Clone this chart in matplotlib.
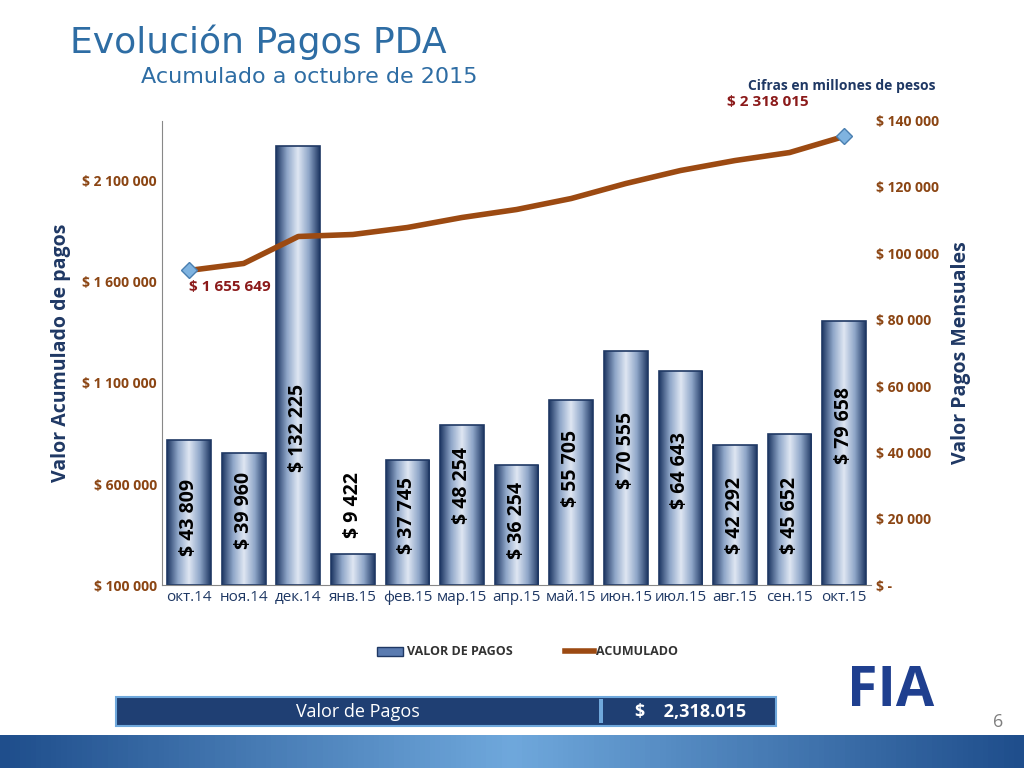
import matplotlib
matplotlib.use("Agg")
import matplotlib.pyplot as plt
import numpy as np
from matplotlib.patches import Rectangle

months = ["окт.14","ноя.14","дек.14","янв.15","фев.15","мар.15","апр.15","май.15","июн.15","июл.15","авг.15","сен.15","окт.15"]
pagos = [43809,39960,132225,9422,37745,48254,36254,55705,70555,64643,42292,45652,79658]
labels = ["$ 43 809","$ 39 960","$ 132 225","$ 9 422","$ 37 745","$ 48 254","$ 36 254","$ 55 705","$ 70 555","$ 64 643","$ 42 292","$ 45 652","$ 79 658"]
acumulado = [1655649,1690123,1823457,1833333,1867901,1917284,1956790,2011111,2085185,2149383,2198765,2238271,2318015]
left_ticks = [100000,600000,1100000,1600000,2100000]
left_tlabels = ["$ 100 000","$ 600 000","$ 1 100 000","$ 1 600 000","$ 2 100 000"]
right_ticks = [0,20000,40000,60000,80000,100000,120000,140000]
right_tlabels = ["$ -","$ 20 000","$ 40 000","$ 60 000","$ 80 000","$ 100 000","$ 120 000","$ 140 000"]
label_pos = [20473,22581,47269,24086,21075,30108,19570,35226,40645,34624,21075,21075,48172]

fig = plt.figure(figsize=(10.24,7.68), dpi=100)
plt.rcParams["font.family"] = "Open Sans"
fig.patch.set_facecolor("white")

ax = fig.add_axes([0.158,0.238,0.693,0.605])
ax2 = ax.twinx()
ax.set_zorder(3); ax.patch.set_visible(False); ax2.set_zorder(2)

x = np.arange(len(months))
cmap = matplotlib.colors.LinearSegmentedColormap.from_list("g",["#1f3864","#8fa6c8","#dfe7f3","#8fa6c8","#1f3864"])
grad = np.linspace(0,1,100).reshape(1,-1)
bars = ax2.bar(x,pagos,width=0.8,color="none",edgecolor="#1f3864",linewidth=1.2,zorder=3)
for b in bars:
    im = ax2.imshow(grad,cmap=cmap,aspect="auto",extent=[b.get_x(),b.get_x()+b.get_width(),0,b.get_height()],zorder=2)
    im.set_clip_path(b)
ax2.set_xlim(-0.5,len(months)-0.5); ax2.set_ylim(0,140000)
for i,(p,l) in enumerate(zip(label_pos,labels)):
    ax2.text(i,p,l,rotation=90,ha="center",va="center",fontsize=14,fontweight="bold",color="black",zorder=5)
ax2.set_yticks(right_ticks); ax2.set_yticklabels(right_tlabels,color="#8b4513",fontsize=10,fontweight="bold")
ax2.set_ylabel("Valor Pagos Mensuales",color="#1f3864",fontsize=14,fontweight="bold",labelpad=8)

ax.plot(x,acumulado,color="#9c4a12",linewidth=4,zorder=4)
ax.plot([0,12],[acumulado[0],acumulado[-1]],linestyle="none",marker="D",markersize=8,markerfacecolor="#7fb3e0",markeredgecolor="#4a7fb0",zorder=5)
ax.set_ylim(100000,100000+465/405*2e6)
ax.set_xlim(-0.5,len(months)-0.5)
ax.set_yticks(left_ticks); ax.set_yticklabels(left_tlabels,color="#8b4513",fontsize=10,fontweight="bold")
ax.set_xticks(x); ax.set_xticklabels(months,fontsize=11,color="#1f3864")
ax.set_ylabel("Valor Acumulado de pagos",color="#1f3864",fontsize=14,fontweight="bold",labelpad=8)
ax.text(0.0,acumulado[0]-80000,"$ 1 655 649",color="#8b1a1a",fontsize=11,fontweight="bold",va="center")
ax.text(10.6,acumulado[-1]+150000,"$ 2 318 015",color="#8b1a1a",fontsize=11,fontweight="bold",ha="center")
for a in (ax,ax2):
    for s in ["top","right"]: a.spines[s].set_visible(False)
    a.tick_params(length=0)
ax.spines["left"].set_color("#888888"); ax.spines["bottom"].set_color("#888888")
ax2.spines["left"].set_visible(False); ax2.spines["bottom"].set_visible(False)

fig.text(0.068,0.945,"Evolución Pagos PDA",fontsize=26,color="#2e6da4",va="center",family="DejaVu Sans")
fig.text(0.138,0.9,"Acumulado a octubre de 2015",fontsize=16,color="#2e6da4",va="center",family="DejaVu Sans")
fig.text(0.73,0.888,"Cifras en millones de pesos",fontsize=10,fontweight="bold",color="#1f3864",va="center")

fig.patches.append(Rectangle((0.368,0.146),0.026,0.012,transform=fig.transFigure,facecolor="#5a7bb0",edgecolor="#1f3864"))
fig.text(0.397,0.152,"VALOR DE PAGOS",fontsize=9,fontweight="bold",color="#333333",va="center")
fig.lines.append(plt.Line2D([0.552,0.58],[0.152,0.152],transform=fig.transFigure,color="#9c4a12",linewidth=4))
fig.text(0.582,0.152,"ACUMULADO",fontsize=9,fontweight="bold",color="#333333",va="center")

fig.patches.append(Rectangle((0.113,0.055),0.645,0.038,transform=fig.transFigure,facecolor="#1f3f73",edgecolor="#6fa8dc",linewidth=1.5))
fig.patches.append(Rectangle((0.585,0.058),0.004,0.032,transform=fig.transFigure,facecolor="#6fa8dc"))
fig.text(0.35,0.073,"Valor de Pagos",fontsize=13,color="white",ha="center",va="center")
fig.text(0.62,0.073,"$    2,318.015",fontsize=13,fontweight="bold",color="white",va="center")
fig.text(0.975,0.06,"6",fontsize=13,color="#7f7f7f",ha="center",va="center")
fig.text(0.87,0.1,"FIA",fontsize=40,fontweight="bold",color="#1f3f8f",ha="center",va="center")
strip = np.linspace(0,1,200).reshape(1,-1)
sax = fig.add_axes([0,0,1,0.043]); sax.axis("off")
sax.imshow(strip,cmap=matplotlib.colors.LinearSegmentedColormap.from_list("s",["#1f4e8c","#6fa8dc","#1f4e8c"]),aspect="auto")
fig.savefig("out.png",dpi=100)
